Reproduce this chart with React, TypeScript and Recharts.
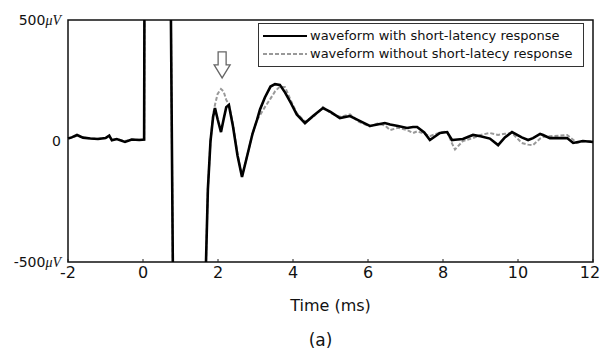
import {
  LineChart,
  Line,
  XAxis,
  YAxis,
  Legend,
  Label,
  ReferenceArea,
  ReferenceDot,
} from 'recharts';

// time axis in ms
const timeMs = [
  -2.0, -1.9, -1.76, -1.6, -1.4, -1.2, -1.0, -0.9, -0.83, -0.7, -0.48, -0.3, -0.1, 0.03,
  0.06, 0.4, 0.72, 0.82, 1.2, 1.6, 1.68, 1.73, 1.8, 1.87, 1.92, 1.99, 2.08, 2.15, 2.22,
  2.29, 2.4, 2.52, 2.64, 2.78, 2.92, 3.04, 3.12, 3.25, 3.4, 3.52, 3.65, 3.79, 3.95, 4.1,
  4.32, 4.55, 4.8, 5.0, 5.25, 5.52, 5.75, 6.05, 6.25, 6.45, 6.59, 6.8, 7.04, 7.2, 7.31,
  7.5, 7.65, 7.92, 8.11, 8.24, 8.32, 8.53, 8.8, 9.0, 9.25, 9.47, 9.65, 9.84, 10.1, 10.27,
  10.4, 10.59, 10.67, 10.85, 11.1, 11.31, 11.47, 11.57, 11.73, 12.0,
];

// µV, waveform with short-latency response
const withShortLatency = [
  10, 15, 25, 14, 10, 8, 12, 22, 3, 8, -4, 6, 4, 6,
  2000, 3000, 1000, -1000, -3000, -1300, -500, -200, 0, 100, 136, 90, 37, 90, 140,
  149, 60, -60, -149, -60, 30, 87, 130, 180, 225, 235, 232, 200, 155, 110,
  74, 105, 136, 120, 95, 103, 85, 62, 68, 74, 68, 62, 54, 58, 58,
  35, 4, 33, 37, 4, 5, 8, 25, 20, 10, -17, 15, 37, 15, 4,
  12, 29, 25, 12, 12, 12, -8, -5, 0, -4,
];

// µV, waveform without short-latency response
const withoutShortLatency = [
  10, 15, 22, 15, 10, 9, 12, 20, 5, 8, 0, 6, 5, 6,
  2000, 3000, 1000, -1000, -3000, -1300, -500, -200, 0, 110, 150, 195, 215, 205, 170,
  150, 70, -55, -145, -60, 30, 87, 107, 140, 175, 205, 225, 222, 165, 115,
  80, 100, 140, 115, 100, 110, 80, 60, 72, 64, 45, 55, 45, 33, 40,
  30, 20, 35, 40, -10, -35, 0, 12, 25, 33, 25, 30, 33, -8, -15,
  -17, 10, 17, 20, 22, 25, 5, -8, -2, 0,
];

const xTicks = [-2, 0, 2, 4, 6, 8, 10, 12];
const yTicks = [-500, 0, 500];

const seriesNames = [
  'waveform with short-latency response',
  'waveform without short-latecy response',
];

const data = timeMs.map((t, i) => ({
  t,
  withSlr: withShortLatency[i],
  withoutSlr: withoutShortLatency[i],
}));

const FONT = '"DejaVu Sans", sans-serif';

function YTick({ x, y, payload }: any) {
  const v = payload.value;
  return (
    <text x={x} y={y} dy={5} textAnchor="end" fontSize={14} fontFamily={FONT} fill="#111">
      {v}
      {v !== 0 && (
        <tspan fontFamily='"Liberation Serif", serif' fontStyle="italic">μV</tspan>
      )}
    </text>
  );
}

function XTick({ x, y, payload }: any) {
  // last label sits against the right edge, nudge it in
  const shift = payload.value === 12 ? -3 : 0;
  return (
    <g>
      <line x1={x} x2={x} y1={y - 5} y2={y - 8} stroke="#222" strokeWidth={1} />
      <text x={x + shift} y={y} dy="0.71em" textAnchor="middle" fontSize={16} fontFamily={FONT} fill="#111">
        {payload.value}
      </text>
    </g>
  );
}

function DownArrow({ cx, cy }: any) {
  const pts = [
    [cx - 4, cy],
    [cx + 4, cy],
    [cx + 4, cy + 13],
    [cx + 8, cy + 13],
    [cx, cy + 26],
    [cx - 8, cy + 13],
    [cx - 4, cy + 13],
  ]
    .map((p) => p.join(','))
    .join(' ');
  return <polygon points={pts} fill="#fff" stroke="#666" strokeWidth={1.3} />;
}

function LegendBox() {
  return (
    <div style={{
      border: '1.2px solid #333',
      background: '#fff',
      padding: '3px 4px',
      fontFamily: FONT,
      fontSize: 13,
      color: '#111',
      lineHeight: '18px',
      boxSizing: 'border-box',
      width: 326,
    }}>
      <div style={{ display: 'flex', alignItems: 'center' }}>
        <svg width={44} height={10} style={{ marginRight: 3 }}>
          <line x1={0} x2={44} y1={5} y2={5} stroke="#000" strokeWidth={2} />
        </svg>
        {seriesNames[0]}
      </div>
      <div style={{ display: 'flex', alignItems: 'center' }}>
        <svg width={44} height={10} style={{ marginRight: 3 }}>
          <line x1={0} x2={44} y1={5} y2={5} stroke="#999" strokeWidth={2} strokeDasharray="4 2" />
        </svg>
        {seriesNames[1]}
      </div>
    </div>
  );
}

export default function App() {
  return (
    <div style={{ position: 'absolute', left: 0, top: 0, width: 601, height: 353, background: '#fff' }}>
      <LineChart
        width={601}
        height={353}
        data={data}
        margin={{ top: 20, right: 8, bottom: 61, left: 0 }}
      >
        <XAxis
          dataKey="t"
          type="number"
          domain={[-2, 12]}
          ticks={xTicks}
          tick={<XTick />}
          tickSize={0}
          tickMargin={5}
          axisLine={false}
          tickLine={false}
          height={30}
        >
          <Label value="Time (ms)" position="bottom" offset={8} fontSize={16} fontFamily={FONT} fill="#111" />
          <Label value="(a)" position="bottom" offset={42} dx={-10} fontSize={17} fontFamily={FONT} fill="#111" />
        </XAxis>
        <YAxis
          type="number"
          domain={[-500, 500]}
          ticks={yTicks}
          allowDataOverflow
          tick={<YTick />}
          tickSize={0}
          tickMargin={7}
          axisLine={false}
          tickLine={false}
          width={68}
        />
        <ReferenceArea
          x1={-2}
          x2={12}
          y1={-500}
          y2={500}
          fill="none"
          stroke="#111"
          strokeWidth={1.5}
          fillOpacity={0}
        />
        <Line
          dataKey="withoutSlr"
          type="linear"
          stroke="#999"
          strokeWidth={2}
          strokeDasharray="4 2"
          dot={false}
          isAnimationActive={false}
        />
        <Line
          dataKey="withSlr"
          type="linear"
          stroke="#000"
          strokeWidth={2.6}
          dot={false}
          isAnimationActive={false}
        />
        <ReferenceDot x={2.11} y={368} r={0} shape={<DownArrow />} />
        <Legend
          layout="vertical"
          align="center"
          verticalAlign="middle"
          content={<LegendBox />}
          wrapperStyle={{ position: 'absolute', top: 23, left: 258, width: 326 }}
        />
      </LineChart>
    </div>
  );
}
